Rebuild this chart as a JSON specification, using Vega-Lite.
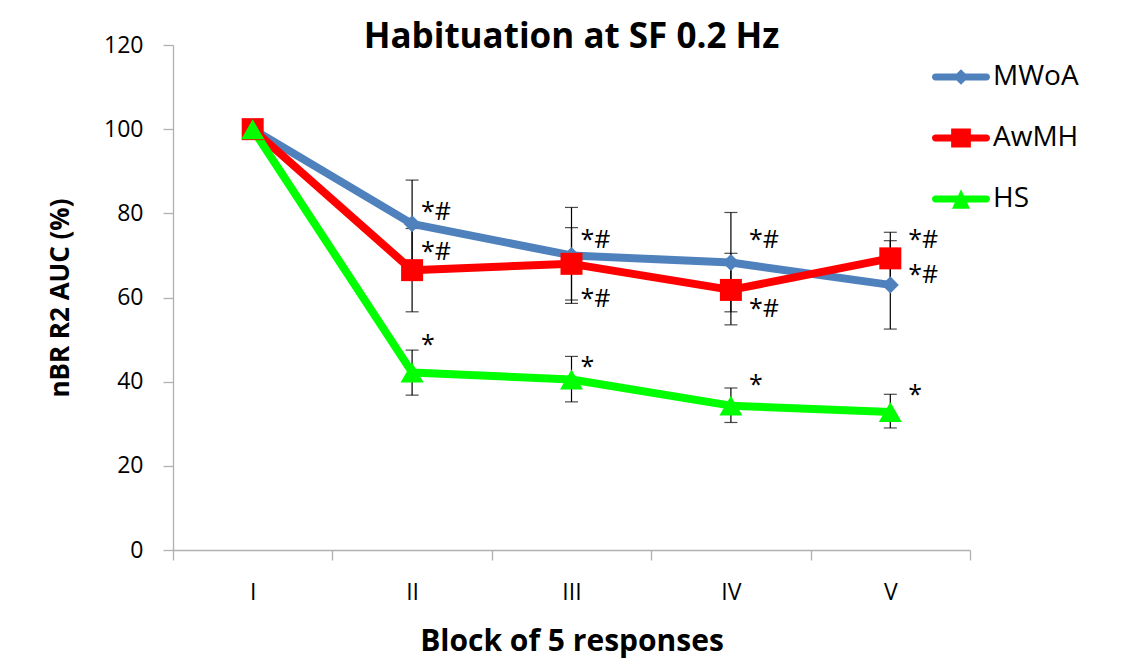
{
  "$schema": "https://vega.github.io/schema/vega-lite/v6.json",
  "width": 797,
  "height": 505,
  "autosize": {"type": "none"},
  "padding": {"left": 173, "top": 45, "right": 153, "bottom": 121},
  "background": "white",
  "title": {
    "text": "Habituation at SF 0.2 Hz",
    "font": "Open Sans",
    "fontSize": 35,
    "fontWeight": "bold",
    "color": "black",
    "anchor": "middle",
    "baseline": "alphabetic",
    "offset": -49
  },
  "datasets": {
    "means": [
      {"block": "I", "series": "MWoA", "value": 100},
      {"block": "II", "series": "MWoA", "value": 77.5, "lo": 67.1, "hi": 87.9},
      {"block": "III", "series": "MWoA", "value": 70.0, "lo": 58.6, "hi": 81.4},
      {"block": "IV", "series": "MWoA", "value": 68.3, "lo": 56.6, "hi": 80.2},
      {"block": "V", "series": "MWoA", "value": 63.0, "lo": 52.5, "hi": 73.5},
      {"block": "I", "series": "AwMH", "value": 100},
      {"block": "II", "series": "AwMH", "value": 66.5, "lo": 56.6, "hi": 76.4},
      {"block": "III", "series": "AwMH", "value": 68.0, "lo": 59.4, "hi": 76.6},
      {"block": "IV", "series": "AwMH", "value": 61.8, "lo": 53.5, "hi": 70.5},
      {"block": "V", "series": "AwMH", "value": 69.3, "lo": 63.2, "hi": 75.5},
      {"block": "I", "series": "HS", "value": 100},
      {"block": "II", "series": "HS", "value": 42.2, "lo": 36.8, "hi": 47.5},
      {"block": "III", "series": "HS", "value": 40.5, "lo": 35.2, "hi": 46.0},
      {"block": "IV", "series": "HS", "value": 34.3, "lo": 30.3, "hi": 38.5},
      {"block": "V", "series": "HS", "value": 32.8, "lo": 29.0, "hi": 37.0}
    ],
    "marks": [
      {"block": "II", "label": "*#", "y": 78.4},
      {"block": "II", "label": "*#", "y": 68.9},
      {"block": "II", "label": "*", "y": 46.8},
      {"block": "III", "label": "*#", "y": 71.8},
      {"block": "III", "label": "*#", "y": 57.7},
      {"block": "III", "label": "*", "y": 41.6},
      {"block": "IV", "label": "*#", "y": 71.8},
      {"block": "IV", "label": "*#", "y": 55.4},
      {"block": "IV", "label": "*", "y": 37.3},
      {"block": "V", "label": "*#", "y": 71.8},
      {"block": "V", "label": "*#", "y": 63.5},
      {"block": "V", "label": "*", "y": 35.0}
    ]
  },
  "encoding": {
    "x": {
      "field": "block",
      "type": "nominal",
      "scale": {"type": "band", "domain": ["I", "II", "III", "IV", "V"], "paddingInner": 0, "paddingOuter": 0},
      "axis": {
        "title": "Block of 5 responses",
        "titleFont": "Open Sans",
        "titleFontSize": 30,
        "titleFontWeight": "bold",
        "titleColor": "black",
        "titlePadding": 22,
        "labelFont": "Open Sans",
        "labelFontSize": 23,
        "labelColor": "black",
        "labelAngle": 0,
        "labelPadding": 21,
        "tickBand": "extent",
        "tickSize": 10,
        "tickColor": "#b0b0b0",
        "tickWidth": 1.3,
        "domainColor": "#b0b0b0",
        "domainWidth": 1.3,
        "grid": false
      }
    }
  },
  "layer": [
    {
      "data": {"name": "means"},
      "mark": {"type": "rule", "color": "black", "strokeWidth": 1.2},
      "encoding": {
        "y": {"field": "lo", "type": "quantitative"},
        "y2": {"field": "hi"}
      }
    },
    {
      "data": {"name": "means"},
      "mark": {"type": "tick", "color": "black", "thickness": 1.2, "size": 13, "orient": "horizontal"},
      "encoding": {"y": {"field": "lo", "type": "quantitative"}}
    },
    {
      "data": {"name": "means"},
      "mark": {"type": "tick", "color": "black", "thickness": 1.2, "size": 13, "orient": "horizontal"},
      "encoding": {"y": {"field": "hi", "type": "quantitative"}}
    },
    {
      "data": {"name": "means"},
      "mark": {"type": "line", "strokeWidth": 8, "strokeJoin": "round", "strokeCap": "round"},
      "encoding": {
        "y": {
          "field": "value",
          "type": "quantitative",
          "scale": {"domain": [0, 120], "nice": false},
          "axis": {
            "title": "nBR R2 AUC (%)",
            "titleFont": "Open Sans",
            "titleFontSize": 26,
            "titleFontWeight": "bold",
            "titleColor": "black",
            "titlePadding": 30,
            "values": [0, 20, 40, 60, 80, 100, 120],
            "labelFont": "Open Sans",
            "labelFontSize": 23,
            "labelColor": "black",
            "labelPadding": 20,
            "tickSize": 10,
            "tickColor": "#b0b0b0",
            "tickWidth": 1.3,
            "domainColor": "#b0b0b0",
            "domainWidth": 1.3,
            "grid": false
          }
        },
        "color": {
          "field": "series",
          "type": "nominal",
          "scale": {"domain": ["MWoA", "AwMH", "HS"], "range": ["#4f81bd", "#ff0000", "#00ff00"]},
          "legend": {
            "title": null,
            "orient": "none",
            "legendX": 759,
            "legendY": 3,
            "padding": 0,
            "symbolSize": 3364,
            "rowPadding": 18,
            "labelOffset": 3,
            "labelFont": "Open Sans",
            "labelFontSize": 28,
            "labelColor": "black",
            "encode": {
              "symbols": {
                "update": {
                  "shape": {"signal": "datum.value === 'MWoA' ? 'M-0.88,-0.12 L0.88,-0.12 A0.12,0.12 0 0 1 0.88,0.12 L-0.88,0.12 A0.12,0.12 0 0 1 -0.88,-0.12 Z M0,-0.27 L0.27,0 L0,0.27 L-0.27,0 Z' : datum.value === 'AwMH' ? 'M-0.88,-0.12 L0.88,-0.12 A0.12,0.12 0 0 1 0.88,0.12 L-0.88,0.12 A0.12,0.12 0 0 1 -0.88,-0.12 Z M-0.34,-0.33 L0.34,-0.33 L0.34,0.33 L-0.34,0.33 Z' : 'M-0.88,-0.12 L0.88,-0.12 A0.12,0.12 0 0 1 0.88,0.12 L-0.88,0.12 A0.12,0.12 0 0 1 -0.88,-0.12 Z M0,-0.34 L0.31,0.34 L-0.31,0.34 Z'"},
                  "fill": {"signal": "datum.value === 'MWoA' ? '#4f81bd' : datum.value === 'AwMH' ? '#ff0000' : '#00ff00'"},
                  "stroke": {"value": "transparent"},
                  "strokeWidth": {"value": 0},
                  "opacity": {"value": 1}
                }
              }
            }
          }
        }
      }
    },
    {
      "data": {"name": "means"},
      "transform": [{"filter": "datum.series === 'MWoA'"}],
      "mark": {"type": "point", "filled": true, "opacity": 1, "shape": "diamond", "size": 290, "color": "#4f81bd"},
      "encoding": {"y": {"field": "value", "type": "quantitative"}}
    },
    {
      "data": {"name": "means"},
      "transform": [{"filter": "datum.series === 'AwMH'"}],
      "mark": {"type": "point", "filled": true, "opacity": 1, "shape": "square", "size": 484, "color": "#ff0000"},
      "encoding": {"y": {"field": "value", "type": "quantitative"}}
    },
    {
      "data": {"name": "means"},
      "transform": [{"filter": "datum.series === 'HS'"}],
      "mark": {"type": "point", "filled": true, "opacity": 1, "shape": "triangle-up", "size": 530, "color": "#00ff00"},
      "encoding": {"y": {"field": "value", "type": "quantitative"}}
    },
    {
      "data": {"name": "marks"},
      "transform": [{"filter": "datum.block === 'II' || datum.block === 'III'"}],
      "mark": {"type": "text", "align": "left", "baseline": "alphabetic", "dx": 9, "font": "Open Sans", "fontSize": 25, "color": "black"},
      "encoding": {
        "y": {"field": "y", "type": "quantitative"},
        "text": {"field": "label"}
      }
    },
    {
      "data": {"name": "marks"},
      "transform": [{"filter": "datum.block === 'IV' || datum.block === 'V'"}],
      "mark": {"type": "text", "align": "left", "baseline": "alphabetic", "dx": 18, "font": "Open Sans", "fontSize": 25, "color": "black"},
      "encoding": {
        "y": {"field": "y", "type": "quantitative"},
        "text": {"field": "label"}
      }
    }
  ],
  "config": {
    "view": {"stroke": null},
    "axis": {"grid": false}
  }
}
